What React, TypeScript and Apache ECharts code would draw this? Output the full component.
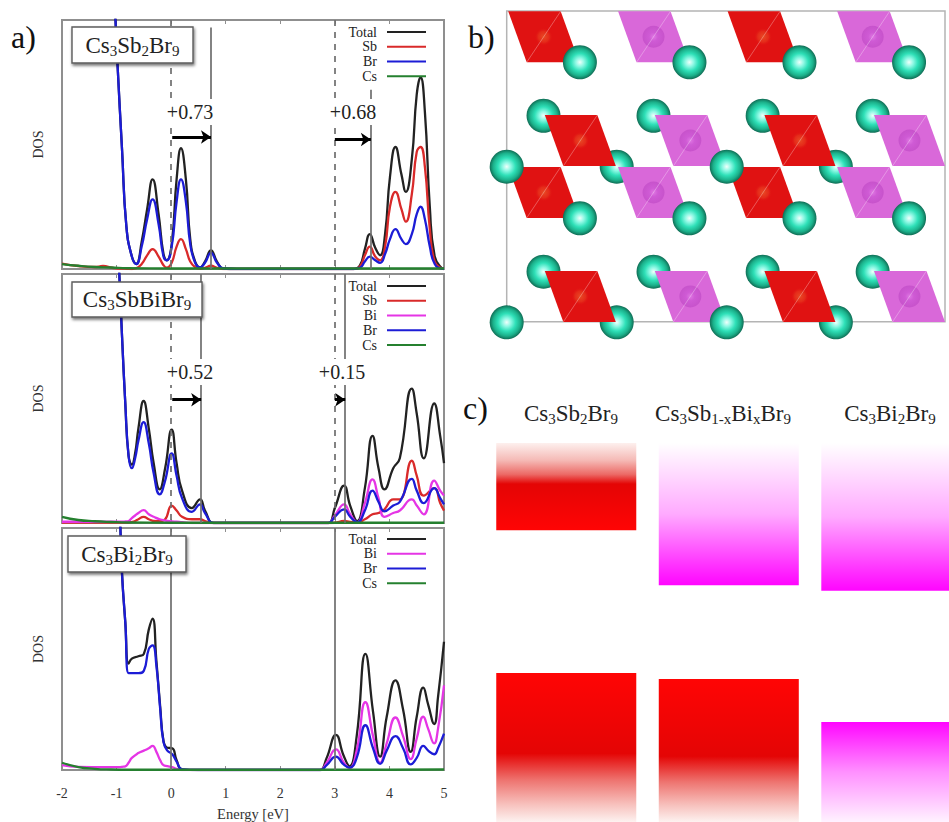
import React, { useEffect, useRef } from "react";
import * as echarts from "echarts";

const FONT = "Liberation Serif";

// ---- panel a) density of states: energies in eV, DOS in % of panel height (values above 100 run off the frame)
const csEnergy = [-2, -1.7, -1.4, -1.1, -0.8, 0, 1, 2, 3, 4, 5];

const energy1 = [-2, -1.7, -1.4, -1.25, -1.08, -1.02, -0.98, -0.9, -0.82, -0.72, -0.64, -0.54, -0.44, -0.34, -0.23, -0.14, -0.08, 0.01, 0.1, 0.18, 0.27, 0.35, 0.44, 0.53, 0.62, 0.73, 0.84, 0.96, 1.2, 3.2, 3.34, 3.46, 3.55, 3.64, 3.74, 3.83, 3.92, 4.01, 4.11, 4.22, 4.3, 4.41, 4.5, 4.57, 4.65, 4.74, 4.83, 4.96, 5];
const total1 = [null, null, null, null, 125, 100, 81, 48, 17, 5, 2, 11, 24, 36, 22, 6, 3.5, 10, 36, 48.5, 36, 12, 3, 0.7, 3, 7.5, 3, 0.2, 0, 0, 0, 1.5, 8, 14, 8.5, 5.5, 14, 37, 49, 38, 31, 44, 70, 77, 63, 25, 5, 0.3, 0];
const br1 = [null, null, null, null, 125, 100, 81, 48, 17, 5, 2, 9, 20, 28, 18, 5, 3.5, 9, 27, 36, 27, 10, 2.5, 0.6, 2.5, 6.5, 2.5, 0.2, 0, 0, 0, 0.5, 3, 5, 3.5, 2.5, 6, 12, 16, 12, 10, 14, 22, 25, 20, 9, 2, 0.1, 0];
const sb1 = [2.2, 1.2, 0.8, 1.2, 0.5, 0.3, 0.2, 0.2, 0.1, 0, 0.3, 2, 5.5, 8, 5, 1.5, 0.5, 2.5, 9, 12, 8, 3, 0.7, 0.1, 0.5, 1.3, 0.5, 0, 0, 0, 0, 1, 5.5, 9, 5, 3.5, 9, 25, 31, 24, 19, 30, 47, 49, 41, 16, 3, 0.2, 0];
const cs1 = [2, 1.3, 0.8, 0.6, 0.3, 0.2, 0.2, 0.2, 0.2, 0.2, 0.2];

const energy2 = [-2, -1.6, -1.2, -1, -0.95, -0.9, -0.84, -0.78, -0.72, -0.66, -0.6, -0.505, -0.41, -0.32, -0.21, -0.11, 0.01, 0.1, 0.2, 0.38, 0.53, 0.62, 0.78, 1, 2.7, 2.88, 3, 3.17, 3.28, 3.41, 3.55, 3.69, 3.8, 3.91, 4.07, 4.19, 4.41, 4.5, 4.63, 4.82, 4.93, 5];
const total2 = [null, null, null, 125, 100, 75, 48, 27, 23.5, 28, 38, 49, 38, 24, 13.5, 22, 37.5, 24, 13, 6, 9.5, 5, 0, 0, 0, 0, 6, 15, 7, 0.7, 14, 35, 22, 13.5, 22, 26, 54, 44, 26, 48, 35, 24];
const br2 = [null, null, null, 125, 100, 75, 48, 27, 22, 26, 33, 40.5, 32, 20, 11.5, 17, 28, 19, 10, 4.5, 7.5, 4, 0, 0, 0, 0, 2.5, 5.5, 2.5, 0.3, 5, 13, 8.5, 4.7, 7, 8.5, 17.7, 13, 8, 14, 10, 7.5];
const bi2 = [0.5, 0.5, 0.5, 0.5, 0.5, 0.5, 0.6, 0.8, 2, 3, 4, 5.2, 3.5, 2.5, 1.5, 1, 0.6, 0.5, 0.3, 0, 0, 0, 0, 0, 0, 0, 3, 7.5, 3.5, 0.3, 8, 17.5, 10, 2.5, 4, 5, 9.5, 7, 3.5, 17, 13, 11];
const sb2 = [0.2, 0.2, 0.2, 0.2, 0.2, 0.2, 0.2, 0.2, 0.4, 0.8, 1.5, 2.5, 1.5, 0.8, 0.7, 1.5, 7, 5, 2.5, 1.5, 1.5, 0.8, 0, 0, 0, 0, 0.1, 0.8, 0.4, 0.3, 1.5, 3.5, 4, 5.5, 9.5, 9.5, 25, 19, 11, 14, 8, 5];
const cs2 = [2.5, 1.2, 0.7, 0.4, 0.2, 0.1, 0.1, 0.1, 0.1, 0.1, 0.1];

const energy3 = [-2, -1.7, -1.2, -0.97, -0.93, -0.9, -0.84, -0.78, -0.72, -0.6, -0.5, -0.41, -0.34, -0.27, -0.2, -0.14, -0.07, 0.02, 0.1, 0.2, 0.5, 2.6, 2.73, 2.85, 3.02, 3.16, 3.27, 3.4, 3.56, 3.7, 3.83, 3.95, 4.11, 4.25, 4.39, 4.5, 4.62, 4.71, 4.82, 4.89, 5];
const total3 = [null, null, null, 125, 100, 81, 61, 44, 46, 47, 48, 58, 62.5, 45, 26, 12, 9.2, 9, 4, 0.3, 0, 0, 0, 5, 14.5, 6, 1.5, 14, 48, 24, 5.5, 22, 37, 25, 7.5, 22, 34, 27, 19, 30, 53];
const br3 = [null, null, null, 125, 100, 81, 61, 40, 40, 40, 41, 50, 51.5, 43, 25, 11.5, 8, 6.5, 3.5, 0.3, 0, 0, 0, 2, 5.5, 2.3, 1, 5, 18.5, 9, 2.5, 8, 14, 9, 2.3, 5, 10, 8, 6.5, 9, 15];
const bi3 = [2, 1.3, 1.2, 1.2, 1.2, 1.3, 1.5, 3, 5, 7, 8, 9, 10, 7.5, 4, 2, 1.6, 1.2, 0.5, 0, 0, 0, 0, 3, 8.5, 3.2, 0.8, 8, 28, 14, 3, 11, 21.7, 14, 4.5, 13, 22, 17, 11, 17, 35];
const cs3 = [3, 1.2, 0.5, 0.2, 0.1, 0.1, 0.1, 0.1, 0.1, 0.1, 0.2];

const energyTicks = ["-2", "-1", "0", "1", "2", "3", "4", "5"];
const legend1 = ["Total", "Sb", "Br", "Cs"];
const legend2 = ["Total", "Sb", "Bi", "Br", "Cs"];
const legend3 = ["Total", "Bi", "Br", "Cs"];

// band-edge guides: [energy, from DOS, to DOS, dashed]
const guides1 = [[0, 100, 0, 1], [0.73, 97, 0, 0], [3, 100, 0, 1], [3.66, 72, 0, 0]];
const guides2 = [[0, 100, 0, 1], [0.55, 100, 0, 0], [3, 100, 0, 1], [3.19, 100, 0, 0]];
const guides3 = [[0, 100, 0, 0], [3, 100, 0, 0]];
// shift arrows: [from energy, to energy, DOS]
const arrows1 = [[0.02, 0.73, 53], [3, 3.66, 52]];
const arrows2 = [[0.02, 0.55, 49.5], [3, 3.19, 49.5]];

// ---- panel b) crystal: positions as fractions of the drawn cell
const sphereFrontX = [0.167, 0.417, 0.668, 0.918, 0.167, 0.417, 0.668, 0.918, 0, 0.502, 0, 0.502];
const sphereFrontY = [0.835, 0.835, 0.835, 0.835, 0.333, 0.333, 0.333, 0.333, 0.499, 0.499, -0.002, -0.002];
const sphereBackX = [0.084, 0.335, 0.584, 0.835, 0.084, 0.335, 0.584, 0.835, 0.251, 0.751, 0.251, 0.751];
const sphereBackY = [0.663, 0.663, 0.663, 0.663, 0.161, 0.161, 0.161, 0.161, 0.499, 0.499, -0.002, -0.002];
const octaX = [0.0844, 0.335, 0.585, 0.835, 0.168, 0.419, 0.669, 0.919, 0.0844, 0.335, 0.585, 0.835, 0.168, 0.419, 0.669, 0.919];
const octaY = [0.917, 0.917, 0.917, 0.917, 0.583, 0.583, 0.583, 0.583, 0.416, 0.416, 0.416, 0.416, 0.0815, 0.0815, 0.0815, 0.0815];
const octaKind = [0, 1, 0, 1, 0, 1, 0, 1, 0, 1, 0, 1, 0, 1, 0, 1]; // 0 Sb, 1 Bi

// ---- panel c) band alignment
const bandColumns = ["Cs3Sb2Br9", "Cs3Sb1-xBixBr9", "Cs3Bi2Br9"];
const bandColumn = [0.5, 1.5, 2.5, 0.5, 1.5, 2.5];
const bandLow = [77, 62.5, 61, 0, 0, 0];
const bandHigh = [100, 100, 100, 39.3, 37.7, 26.4];
const bandKind = [0, 1, 1, 2, 2, 3];

const BLACK = "#222222";
const RED = "#d92a2a";
const BLUE = "#1c1cd6";
const MAGENTA = "#e535e5";
const GREEN = "#25802f";
const FRAME = "#8f8f8f";

const bandGradients = () => [
  new echarts.graphic.LinearGradient(0, 0, 0, 1, [
    { offset: 0, color: "#fdf0ee" }, { offset: 0.2, color: "#f5b9b5" }, { offset: 0.36, color: "#ec6a66" },
    { offset: 0.47, color: "#e40505" }, { offset: 1, color: "#ff0505" },
  ]),
  new echarts.graphic.LinearGradient(0, 0, 0, 1, [
    { offset: 0, color: "#ffffff" }, { offset: 0.5, color: "#ffaaff" }, { offset: 0.85, color: "#ff35ff" }, { offset: 1, color: "#ff05ff" },
  ]),
  new echarts.graphic.LinearGradient(0, 0, 0, 1, [
    { offset: 0, color: "#ff0505" }, { offset: 0.54, color: "#e40505" }, { offset: 0.72, color: "#ee7470" },
    { offset: 0.88, color: "#f7c0bc" }, { offset: 1, color: "#fdf2f0" },
  ]),
  new echarts.graphic.LinearGradient(0, 0, 0, 1, [
    { offset: 0, color: "#ff05ff" }, { offset: 0.5, color: "#ff90ff" }, { offset: 1, color: "#fff2ff" },
  ]),
];

const pairs = (xs: number[], ys: (number | null)[]) => xs.map((x, i) => [x, ys[i]]);

function dosSeries(name: string, color: string, idx: number, xs: number[], ys: (number | null)[], extra: any = {}) {
  return {
    name,
    type: "line",
    xAxisIndex: idx,
    yAxisIndex: idx,
    data: pairs(xs, ys),
    smooth: 0.5,
    symbol: "none",
    connectNulls: false,
    lineStyle: { color, width: 2.3 },
    itemStyle: { color },
    z: 3,
    ...extra,
  };
}

const guideMark = (guides: number[][]) => ({
  silent: true,
  symbol: "none",
  label: { show: false },
  data: guides.map(([e, a, b, d]) => [
    { coord: [e, a], lineStyle: { color: "#6e6e6e", width: 1.7, type: d ? [6, 6] : "solid" } },
    { coord: [e, b] },
  ]),
});

const arrowMark = (arrows: number[][]) => ({
  silent: true,
  symbol: ["none", "arrow"],
  symbolSize: 10,
  label: { show: false },
  data: arrows.map(([a, b, y]) => [
    { coord: [a, y], lineStyle: { color: "#000000", width: 3, type: "solid" } },
    { coord: [b, y] },
  ]),
});

const dosGrid = (top: number) => ({ left: 62, width: 382, top, height: 249, show: true, borderColor: FRAME, borderWidth: 2, backgroundColor: "transparent" });

const bottomAxis = (idx: number, labels: boolean) => ({
  type: "value",
  gridIndex: idx,
  min: -2,
  max: 5,
  interval: 1,
  position: "bottom",
  axisLine: { show: false },
  axisTick: { show: true, inside: true, length: 4, lineStyle: { color: FRAME, width: 1 } },
  splitLine: { show: false },
  axisLabel: { show: labels, color: "#333", fontFamily: FONT, fontSize: 14, margin: 16 },
  name: labels ? "Energy [eV]" : "",
  nameLocation: "middle",
  nameGap: 36,
  nameTextStyle: { color: "#333", fontFamily: FONT, fontSize: 14.5 },
});

const topAxis = (idx: number) => ({
  type: "value",
  gridIndex: idx,
  min: -2,
  max: 5,
  interval: 1,
  position: "top",
  axisLine: { show: false },
  axisTick: { show: true, inside: true, length: 4, lineStyle: { color: FRAME, width: 1 } },
  splitLine: { show: false },
  axisLabel: { show: false },
});

const dosY = (idx: number) => ({
  type: "value",
  gridIndex: idx,
  min: 0,
  max: 100,
  axisLine: { show: false },
  axisTick: { show: false },
  splitLine: { show: false },
  axisLabel: { show: false },
  name: "DOS",
  nameLocation: "middle",
  nameGap: 17,
  nameRotate: 90,
  nameTextStyle: { color: "#333", fontFamily: FONT, fontSize: 14 },
});

const dosLegend = (data: string[], top: number) => ({
  data,
  orient: "vertical",
  align: "right",
  right: 517,
  top,
  itemWidth: 39,
  itemHeight: 14,
  itemGap: 0.75,
  selectedMode: false,
  itemStyle: { opacity: 0 },
  textStyle: { fontFamily: FONT, fontSize: 14, color: "#222", padding: [0, 5, 0, 0] },
});

const richStyles = {
  a: { fontFamily: FONT, fontSize: 23, lineHeight: 26, fill: "#222" },
  s: { fontFamily: FONT, fontSize: 15, lineHeight: 15, fill: "#222", verticalAlign: "bottom" },
};

const formula = (s: string) =>
  s.split(/(1-x|[0-9]|x(?=B))/).filter(Boolean)
    .map((t) => (/^(1-x|[0-9]|x)$/.test(t) ? `{s|${t}}` : `{a|${t}}`)).join("");

const formulaText = (s: string, x: number, y: number) => ({
  type: "text",
  z: 101,
  style: { text: formula(s), rich: richStyles, x, y, align: "center", verticalAlign: "middle", fill: "#222", fontFamily: FONT, fontSize: 23 },
});

const titleBox = (x: number, y: number, width: number, height: number) => ({
  type: "rect",
  z: 100,
  shape: { x, y, width, height },
  style: { fill: "#ffffff", stroke: "#5c5c5c", lineWidth: 1.4, shadowBlur: 3, shadowOffsetX: 1, shadowOffsetY: 2, shadowColor: "rgba(0,0,0,0.55)" },
});

const shiftText = (text: string, x: number, y: number) => ({
  type: "text",
  z: 90,
  style: { text, x, y, align: "center", verticalAlign: "middle", fill: "#222", fontFamily: FONT, fontSize: 20, backgroundColor: "#fff", padding: [3, 2, 3, 2] },
});

const panelLetter = (text: string, x: number, y: number) => ({
  type: "text",
  z: 100,
  style: { text, x, y, align: "left", verticalAlign: "middle", fill: "#111", fontFamily: FONT, fontSize: 32 },
});

export default function App() {
  const ref = useRef<HTMLDivElement>(null);

  useEffect(() => {
    document.body.style.margin = "0";
    const chart = echarts.init(ref.current!, null, { renderer: "svg" });

    const sphereColor = new echarts.graphic.RadialGradient(0.5, 0.5, 0.5, [
      { offset: 0, color: "#f0fffb" },
      { offset: 0.25, color: "#8ef8e4" },
      { offset: 0.52, color: "#2fe0b8" },
      { offset: 0.8, color: "#1bb08a" },
      { offset: 1, color: "#106d55" },
    ]);
    const redAtom = new echarts.graphic.RadialGradient(0.5, 0.5, 0.5, [
      { offset: 0, color: "#ea5a2a" },
      { offset: 0.6, color: "rgba(234,70,34,0.6)" },
      { offset: 1, color: "rgba(224,18,18,0)" },
    ]);
    const pinkAtom = new echarts.graphic.RadialGradient(0.5, 0.5, 0.5, [
      { offset: 0, color: "#e07ae4" },
      { offset: 0.4, color: "#cd58d4" },
      { offset: 1, color: "#c44fc9" },
    ]);
    const gradients = bandGradients();

    const sphereSeries = (xs: number[], ys: number[], z: number) => ({
      type: "scatter",
      xAxisIndex: 6,
      yAxisIndex: 3,
      data: pairs(xs, ys),
      symbol: "circle",
      symbolSize: 34,
      clip: false,
      silent: true,
      z,
      itemStyle: { color: sphereColor, opacity: 1 },
    });

    const renderOcta = (_: any, api: any) => {
      const [cx, cy] = api.coord([api.value(0), api.value(1)]);
      const kind = api.value(2);
      const w = 52.5, h = 51, s = 18.5;
      const tl = [cx - w / 2 - s / 2, cy - h / 2];
      const tr = [cx + w / 2 - s / 2, cy - h / 2];
      const br = [cx + w / 2 + s / 2, cy + h / 2];
      const bl = [cx - w / 2 + s / 2, cy + h / 2];
      const fill = kind === 0 ? "#e01212" : "#d968d9";
      return {
        type: "group",
        children: [
          { type: "polygon", shape: { points: [tl, tr, br, bl] }, style: { fill } },
          { type: "circle", shape: { cx, cy, r: kind === 0 ? 9 : 11 }, style: { fill: kind === 0 ? redAtom : pinkAtom, opacity: kind === 0 ? 0.8 : 0.85 } },
          { type: "line", shape: { x1: bl[0], y1: bl[1], x2: tr[0], y2: tr[1] }, style: { stroke: "rgba(255,255,255,0.3)", lineWidth: 1 } },
        ],
      };
    };

    const renderBand = (_: any, api: any) => {
      const top = api.coord([api.value(0), api.value(2)]);
      const bottom = api.coord([api.value(0), api.value(1)]);
      const width = api.size([1, 0])[0] - 22.5;
      return {
        type: "rect",
        shape: { x: top[0] - width / 2, y: top[1], width, height: bottom[1] - top[1] },
        style: { fill: gradients[api.value(3)] },
      };
    };

    chart.setOption({
      animation: false,
      backgroundColor: "#ffffff",
      grid: [
        dosGrid(20),
        dosGrid(274),
        dosGrid(528),
        { left: 506.7, width: 438.3, top: 11, height: 310.7, show: true, borderColor: "#b4b4b4", borderWidth: 1.5 },
        { left: 485, width: 464, top: 443, height: 379, show: false },
      ],
      xAxis: [
        bottomAxis(0, false),
        bottomAxis(1, false),
        { ...bottomAxis(2, true), axisLabel: { show: true, color: "#333", fontFamily: FONT, fontSize: 14, margin: 16, formatter: (v: number) => energyTicks[v + 2] } },
        topAxis(0),
        topAxis(1),
        topAxis(2),
        { type: "value", gridIndex: 3, min: 0, max: 1, show: false },
        { type: "value", gridIndex: 4, min: 0, max: 2.855, show: false },
      ],
      yAxis: [
        dosY(0),
        dosY(1),
        dosY(2),
        { type: "value", gridIndex: 3, min: 0, max: 1, show: false },
        { type: "value", gridIndex: 4, min: 0, max: 100, show: false },
      ],
      legend: [dosLegend(legend1, 20), dosLegend(legend2, 274), dosLegend(legend3, 527)],
      series: [
        dosSeries("Total", BLACK, 0, energy1, total1, { markLine: guideMark(guides1) }),
        dosSeries("Sb", RED, 0, energy1, sb1),
        dosSeries("Br", BLUE, 0, energy1, br1, { markLine: arrowMark(arrows1) }),
        dosSeries("Cs", GREEN, 0, csEnergy, cs1),

        dosSeries("Total", BLACK, 1, energy2, total2, { markLine: guideMark(guides2) }),
        dosSeries("Sb", RED, 1, energy2, sb2),
        dosSeries("Bi", MAGENTA, 1, energy2, bi2),
        dosSeries("Br", BLUE, 1, energy2, br2, { markLine: arrowMark(arrows2) }),
        dosSeries("Cs", GREEN, 1, csEnergy, cs2),

        dosSeries("Total", BLACK, 2, energy3, total3, { markLine: guideMark(guides3) }),
        dosSeries("Bi", MAGENTA, 2, energy3, bi3),
        dosSeries("Br", BLUE, 2, energy3, br3),
        dosSeries("Cs", GREEN, 2, csEnergy, cs3),

        sphereSeries(sphereBackX, sphereBackY, 3),
        {
          type: "custom",
          xAxisIndex: 6,
          yAxisIndex: 3,
          data: octaX.map((x, i) => [x, octaY[i], octaKind[i]]),
          renderItem: renderOcta,
          clip: false,
          silent: true,
          z: 4,
        },
        sphereSeries(sphereFrontX, sphereFrontY, 5),
        {
          type: "custom",
          xAxisIndex: 7,
          yAxisIndex: 4,
          data: bandColumn.map((c, i) => [c, bandLow[i], bandHigh[i], bandKind[i]]),
          encode: { x: 0, y: [1, 2] },
          renderItem: renderBand,
          clip: false,
          silent: true,
          z: 3,
        },
      ],
      graphic: {
        elements: [
          panelLetter("a)", 11, 37),
          panelLetter("b)", 468, 37),
          panelLetter("c)", 463, 408),
          shiftText("+0.73", 190, 112),
          shiftText("+0.68", 353, 112),
          shiftText("+0.52", 190, 372),
          shiftText("+0.15", 342, 372),
          titleBox(72, 27, 121, 36),
          formulaText("Cs3Sb2Br9", 132.5, 45),
          titleBox(72, 282, 130, 35),
          formulaText("Cs3SbBiBr9", 137, 299),
          titleBox(68, 536, 118, 36),
          formulaText("Cs3Bi2Br9", 127, 554),
          formulaText(bandColumns[0], 571, 413),
          formulaText(bandColumns[1], 723, 413),
          formulaText(bandColumns[2], 890, 413),
        ],
      },
    });

    return () => chart.dispose();
  }, []);

  return <div ref={ref} style={{ position: "absolute", left: 0, top: 0, width: 949, height: 822 }} />;
}
